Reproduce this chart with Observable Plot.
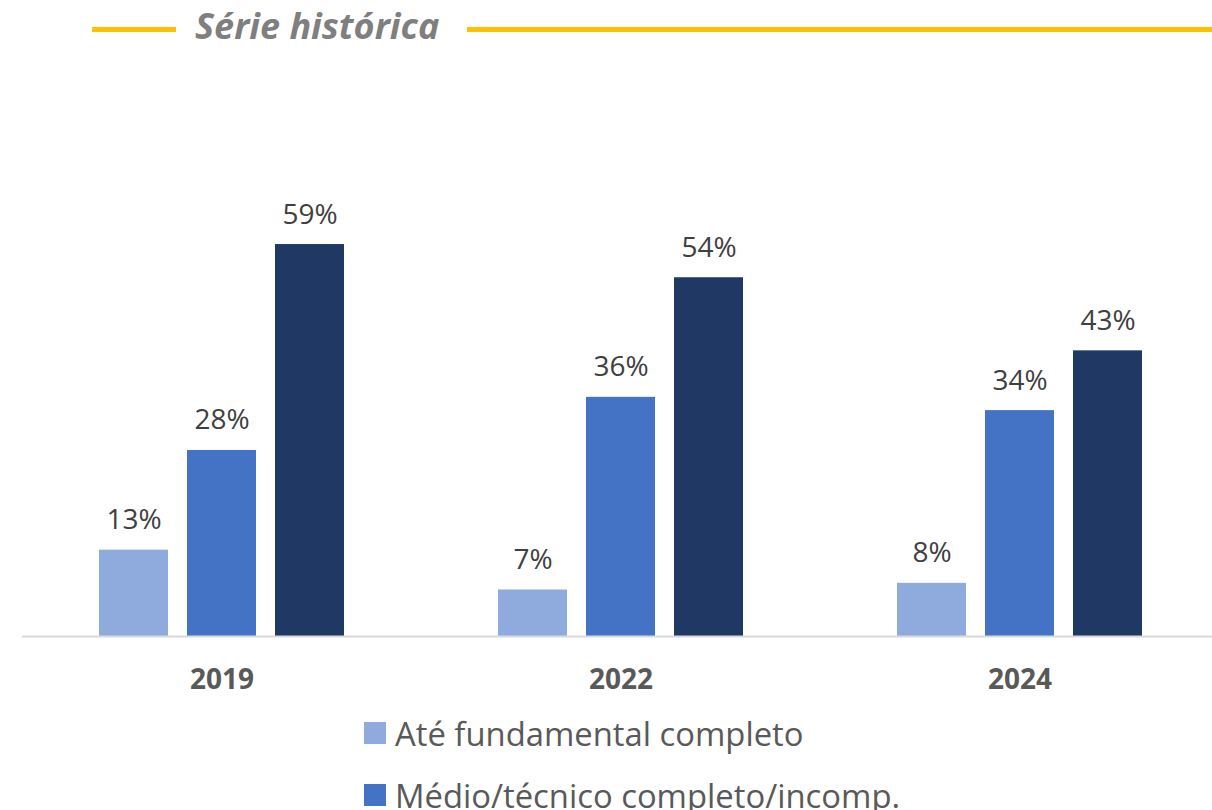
<!DOCTYPE html>
<html>
<head>
<meta charset="utf-8">
<script src="https://cdn.jsdelivr.net/npm/d3@7"></script>
<script src="https://cdn.jsdelivr.net/npm/@observablehq/plot@0.6"></script>
<style>
  html, body { margin: 0; padding: 0; background: #fff; }
  body { width: 1212px; height: 810px; overflow: hidden; font-family: "Open Sans", sans-serif; }
  #title { position: relative; height: 60px; width: 1212px; }
  #title .line { position: absolute; height: 5px; background: #FFC000; top: 27px; }
  #title .txt { position: absolute; left: 195px; top: 6px; font-size: 36px; font-weight: bold; font-style: italic; color: #7F7F7F; line-height: 40px; white-space: nowrap; }
  #legend { margin-left: 364px; font-family: "Open Sans", sans-serif; font-size: 32.8px; color: #595959; }
  .item { height: 62px; display: flex; align-items: center; white-space: nowrap; }
  .sw { width: 22px; height: 22px; margin-right: 9px; flex: none; }
</style>
</head>
<body>
<div id="title">
  <div class="line" style="left:92px;width:84px"></div>
  <div class="txt">Série histórica</div>
  <div class="line" style="left:467px;width:745px"></div>
</div>
<div id="chart"></div>
<div id="legend"></div>
<script>
const years = ["2019", "2022", "2024"];
const series = ["Até fundamental completo", "Médio/técnico completo/incomp.", "Superior completo/incomp."];
const colors = ["#8FAADC", "#4472C4", "#203864"];
const fundamental = [13, 7, 8];
const medio = [28, 36, 34];
const superior = [59, 54, 43];

const valuesBySeries = [fundamental, medio, superior];
const data = [];
years.forEach((yr, i) => {
  series.forEach((s, j) => {
    data.push({year: yr, series: s, value: valuesBySeries[j][i]});
  });
});

const chart = Plot.plot({
  width: 1212,
  height: 642,
  marginLeft: 21,
  marginRight: -8,
  marginTop: 177.4,
  marginBottom: 66,
  style: {fontFamily: "'Open Sans', sans-serif", color: "#595959", background: "transparent", overflow: "hidden"},
  fx: {domain: years, padding: 0, label: null},
  x: {domain: series, paddingInner: 0.22, paddingOuter: 0.87, axis: null},
  y: {domain: [0, 60], axis: null},
  color: {domain: series, range: colors},
  marks: [
    Plot.barY(data, {fx: "year", x: "series", y: "value", fill: "series"}),
    Plot.ruleY([0], {stroke: "#D9D9D9", strokeWidth: 2}),
    Plot.text(data, {fx: "year", x: "series", y: "value", text: d => d.value + "%", dy: -30, fontSize: 28, fill: "#404040"}),
    Plot.axisFx({anchor: "bottom", tickSize: 0, tickPadding: 33, fontSize: 28, fontWeight: "bold", fill: "#595959", label: null})
  ]
});
document.getElementById("chart").appendChild(chart);

const legendDiv = d3.select("#legend");
series.forEach((s, i) => {
  const item = legendDiv.append("div").attr("class", "item");
  item.append("div").attr("class", "sw").style("background-color", colors[i]);
  item.append("span").text(s);
});
</script>
</body>
</html>
